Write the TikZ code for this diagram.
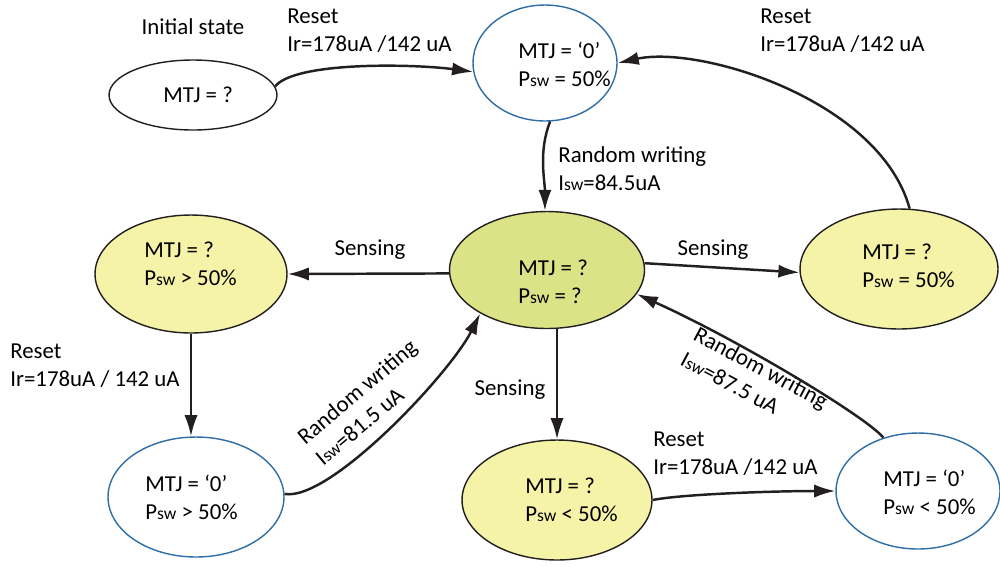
\documentclass[tikz,border=0pt]{standalone}
\usepackage{fontspec}
\setmainfont{Carlito}
\usetikzlibrary{shapes.geometric,arrows.meta}
\definecolor{edgec}{HTML}{231F20}
\definecolor{greenf}{HTML}{DBE386}
\definecolor{yellowf}{HTML}{F4F3A8}
\definecolor{bluec}{HTML}{2E6DA6}
\newcommand{\sw}{{\fontsize{10}{12}\selectfont sw}}
\tikzset{
  st/.style={ellipse, draw=edgec, line width=0.8pt, inner sep=0pt},
  bluest/.style={st, draw=bluec},
  yst/.style={st, fill=yellowf},
  gst/.style={st, fill=greenf},
  arr/.style={draw=edgec, line width=1.4pt, -{Latex[length=12pt,width=7.5pt]}},
  lbl/.style={inner sep=0pt, align=left, font=\fontsize{13}{16}\selectfont},
  txt/.style={lbl, anchor=west},
}
\begin{document}
\begin{tikzpicture}[x=0.02cm, y=-0.02cm]
\useasboundingbox (0,0) rectangle (1000,566);
% states
\node[st, minimum width=3.36cm, minimum height=1.4cm] (init) at (193,95) {};
\node[bluest, minimum width=2.88cm, minimum height=2.32cm] (z1) at (545,63) {};
\node[gst, minimum width=3.9cm, minimum height=2.34cm] (c) at (547,270) {};
\node[yst, minimum width=3.84cm, minimum height=2.36cm] (ly) at (191,274) {};
\node[yst, minimum width=3.96cm, minimum height=2.4cm] (ry) at (899,269) {};
\node[bluest, minimum width=3.52cm, minimum height=2.4cm] (bl) at (196,497) {};
\node[yst, minimum width=3.8cm, minimum height=2.4cm] (by) at (557,500) {};
\node[bluest, minimum width=3.28cm, minimum height=2.32cm] (br) at (918,491) {};
% state texts
\node[txt] (tinit) at (163,95) {MTJ = ?};
\node[txt] (tz1) at (518,64) {MTJ = `0'\\P\sw{} = 50\%};
\node[txt] (tc) at (518,282) {MTJ = ?\\P\sw{} = ?};
\node[txt] (tly) at (144,264) {MTJ = ?\\P\sw{} > 50\%};
\node[txt] (try) at (862,266) {MTJ = ?\\P\sw{} = 50\%};
\node[txt] (tbl) at (145,497) {MTJ = `0'\\P\sw{} > 50\%};
\node[txt] (tby) at (525,500) {MTJ = ?\\P\sw{} < 50\%};
\node[txt] (tbr) at (883,492) {MTJ = `0'\\P\sw{} < 50\%};
% labels
\node[lbl] (tinitlbl) at (193,27) {Initial state};
\node[lbl, anchor=west] (l1) at (287,31) {Reset\\Ir=178uA /142 uA};
\node[lbl, anchor=west] (l2) at (760,31) {Reset\\Ir=178uA /142 uA};
\node[lbl, anchor=west] (l3) at (558,169) {Random writing\\I\sw=84.5uA};
\node[lbl] (l4) at (370,250) {Sensing};
\node[lbl] (l5) at (713,250) {Sensing};
\node[lbl, anchor=west] (l6) at (10,366) {Reset\\Ir=178uA / 142 uA};
\node[lbl] (l7) at (510,390) {Sensing};
\node[lbl, anchor=west] (l8) at (653,454) {Reset\\Ir=178uA /142 uA};
\node[lbl, anchor=west, rotate=40] (l9) at (309,450) {Random writing\\I\sw=81.5 uA};
\node[lbl, anchor=west, rotate=-28] (l10) at (689,345) {Random writing\\I\sw=87.5 uA};
% connectors
\draw[arr] (init.6) .. controls +(20,-25) and +(-60,-8) .. (z1.187);
\draw[arr] (z1.275) .. controls +(-12,30) and +(0,-30) .. (c.92);
\draw[arr] (ry.80) .. controls (880,100) and (700,45) .. (z1.0);
\draw[arr] (c.182) -- (ly.east);
\draw[arr] (c.4) -- (ry.182);
\draw[arr] (ly.south) -- (ly.south |- bl.north);
\draw[arr] (bl.2) .. controls +(45,8) and +(-30,60) .. (c.213);
\draw[arr] (by.north |- c.south) -- (by.north);
\draw[arr] (by.east) .. controls +(30,-6) and +(-60,0) .. (br.west);
\draw[arr] (br.123) .. controls +(-17,-21) and +(100,45) .. (c.345);
\end{tikzpicture}
\end{document}
